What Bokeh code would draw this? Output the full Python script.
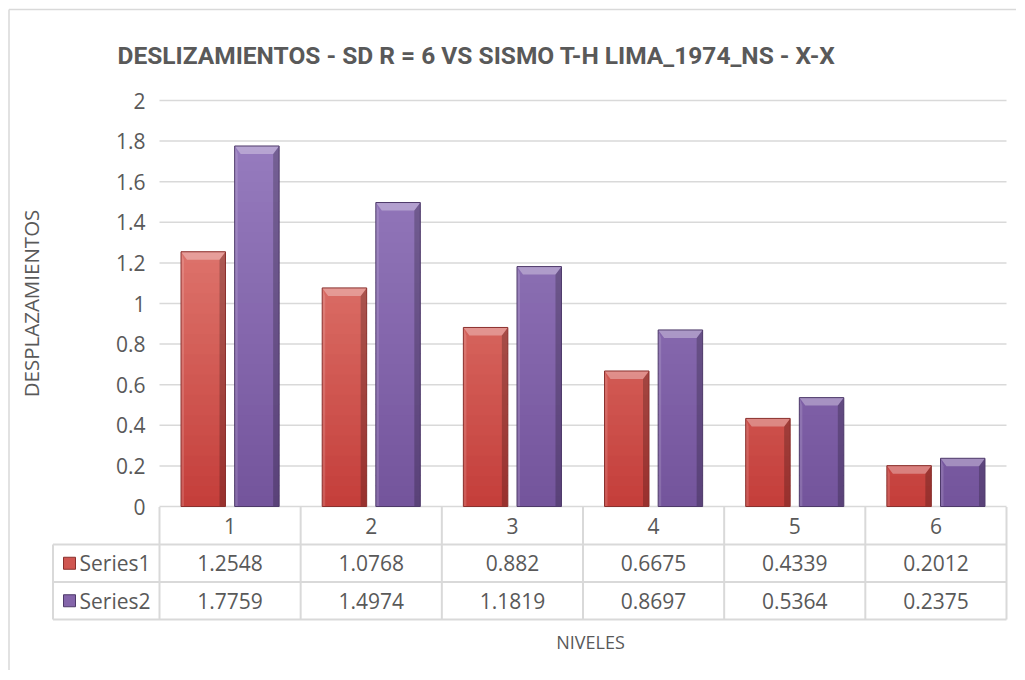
from bokeh.plotting import figure
from bokeh.models import Range1d, FixedTicker, NumeralTickFormatter, LinearAxis, Grid
from bokeh.core.properties import value
from bokeh.embed import file_html
from bokeh.resources import INLINE

# ---------------- data ----------------
levels = ["1", "2", "3", "4", "5", "6"]
series1 = [1.2548, 1.0768, 0.882, 0.6675, 0.4339, 0.2012]
series2 = [1.7759, 1.4974, 1.1819, 0.8697, 0.5364, 0.2375]
series_names = ["Series1", "Series2"]
y_ticks = [0, 0.2, 0.4, 0.6, 0.8, 1.0, 1.2, 1.4, 1.6, 1.8, 2.0]
title_text = "DESLIZAMIENTOS - SD R = 6 VS SISMO T-H LIMA_1974_NS - X-X"
y_title = "DESPLAZAMIENTOS"
x_title = "NIVELES"

# ---------------- style / layout (page pixels) ----------------
TXT = "#595959"
GRID = "#D9D9D9"
FONT = "Open Sans"
W, H = 1016, 670
PL, PR, PT, PB = 159.0, 1006.0, 100.0, 506.0     # plot area
CW = (PR - PL) / 6.0
PY = (PB - PT) / 2.0


def xd(px):
    return 0.5 + (px - PL) / CW


def yd(py):
    return (PB - py) / PY


grad = [((196, 62, 58), (236, 146, 136)),     # series 1 red: value 0 -> 2
        ((116, 84, 156), (154, 128, 194))]    # series 2 purple
lines = ["#8A302D", "#4E3A6A"]
keys = ["#CF5651", "#8465AA"]
offsets = [-0.19, 0.19]
BW = 0.315
STEP = 0.05


def mix(c0, c1, t):
    return "#%02X%02X%02X" % tuple(int(round(a + (b - a) * t)) for a, b in zip(c0, c1))


p = figure(width=W, height=H, x_range=Range1d(xd(0), xd(W)), y_range=Range1d(yd(H), yd(0)),
           output_backend="svg", toolbar_location=None,
           x_axis_location=None, y_axis_location=None, min_border=0)
p.min_border_left = p.min_border_right = p.min_border_top = p.min_border_bottom = 0
p.outline_line_color = None
p.background_fill_color = "white"
p.border_fill_color = "white"
p.renderers = [r for r in p.renderers if not isinstance(r, Grid)]
p.center = [r for r in p.center if not isinstance(r, Grid)]

# y axis drawn at the left edge of the plot area
ax = LinearAxis(fixed_location=0.5, bounds=(0, 2))
ax.ticker = FixedTicker(ticks=y_ticks, minor_ticks=[])
ax.formatter = NumeralTickFormatter(format="0.[0]")
ax.axis_line_color = None
ax.major_tick_line_color = None
ax.minor_tick_line_color = None
ax.major_tick_out = 0
ax.major_tick_in = 0
ax.minor_tick_out = 0
ax.minor_tick_in = 0
ax.major_label_standoff = 14
ax.major_label_text_font = FONT
ax.major_label_text_font_size = "21px"
ax.major_label_text_color = TXT
ax.axis_label = y_title
ax.axis_label_text_font = FONT
ax.axis_label_text_font_size = "20.5px"
ax.axis_label_text_font_style = "normal"
ax.axis_label_text_color = TXT
ax.axis_label_standoff = 68
p.add_layout(ax, "left")

# horizontal grid lines at the tick values
p.segment(x0=[0.5] * len(y_ticks), y0=y_ticks, x1=[6.5] * len(y_ticks), y1=y_ticks,
          line_color=GRID, line_width=1.5)

# outer chart border (left and top edges visible)
p.segment(x0=[xd(8.5), xd(8.5)], y0=[yd(9), yd(9)], x1=[xd(8.5), xd(W + 10)], y1=[yd(H + 10), yd(9)],
          line_color=GRID, line_width=1.5)

# title
p.text(x=[xd(117)], y=[yd(55)], text=[title_text], text_font=value("Roboto"),
       text_font_size="24.5px", text_font_style="bold", text_color=TXT,
       text_align="left", text_baseline="middle")

# ---------------- bars (gradient bands + bevel) ----------------
bx = 6.0 / CW
by = 8.0 / PY
lx = 3.0 / CW
for vals, off, g, lc in zip([series1, series2], offsets, grad, lines):
    xs = [i + 1 + off for i in range(len(vals))]
    L, R, B, T, C = [], [], [], [], []
    for x, v in zip(xs, vals):
        b = 0.0
        while b < v:
            t = min(b + STEP, v)
            L.append(x - BW / 2); R.append(x + BW / 2); B.append(b); T.append(min(t + 0.006, v))
            C.append(mix(g[0], g[1], (b + t) / 2 / 2.0))
            b = t
    p.quad(left=L, right=R, bottom=B, top=T, fill_color=C, line_color=None)
    p.patches(xs=[[x - BW / 2, x - BW / 2 + lx, x - BW / 2 + lx, x - BW / 2] for x in xs],
              ys=[[t, t - by, 0, 0] for t in vals],
              fill_color="white", fill_alpha=0.14, line_color=None)
    p.patches(xs=[[x + BW / 2 - bx, x + BW / 2, x + BW / 2, x + BW / 2 - bx] for x in xs],
              ys=[[t - by, t, 0, 0] for t in vals],
              fill_color="black", fill_alpha=0.22, line_color=None)
    p.patches(xs=[[x - BW / 2, x + BW / 2, x + BW / 2 - bx, x - BW / 2 + bx] for x in xs],
              ys=[[t, t, t - by, t - by] for t in vals],
              fill_color="white", fill_alpha=0.32, line_color=None)
    p.vbar(x=xs, top=vals, bottom=0, width=BW, fill_color=None, line_color=lc, line_width=1)

# ---------------- data table below the plot ----------------
n = len(levels)
row_edges = [506.5, 544.0, 581.5, 619.0]
leg_left = xd(52.5)
hy = [yd(row_edges[1]), yd(row_edges[2]), yd(row_edges[3])]
p.segment(x0=[leg_left] * 3, y0=hy, x1=[n + 0.5] * 3, y1=hy, line_color=GRID, line_width=2)
vx = [i + 0.5 for i in range(n + 1)]
p.segment(x0=vx, y0=[yd(row_edges[0])] * (n + 1), x1=vx, y1=[yd(row_edges[3])] * (n + 1),
          line_color=GRID, line_width=2)
p.segment(x0=[leg_left], y0=[yd(row_edges[1])], x1=[leg_left], y1=[yd(row_edges[3])],
          line_color=GRID, line_width=2)

p.text(x=[i + 1 for i in range(n)], y=[yd((row_edges[0] + row_edges[1]) / 2)] * n, text=levels,
       text_font=value(FONT), text_font_size="21px", text_color=TXT,
       text_align="center", text_baseline="middle")
for r, (vals, name, kc, lc) in enumerate(zip([series1, series2], series_names, keys, lines)):
    yc_px = (row_edges[r + 1] + row_edges[r + 2]) / 2
    p.text(x=[i + 1 for i in range(n)], y=[yd(yc_px)] * n, text=[str(v) for v in vals],
           text_font=value(FONT), text_font_size="21px", text_color=TXT,
           text_align="center", text_baseline="middle")
    p.rect(x=[xd(69)], y=[yd(yc_px)], width=12, height=12, width_units="screen",
           height_units="screen", fill_color=kc, line_color=lc, line_width=1)
    p.text(x=[xd(79)], y=[yd(yc_px)], text=[name],
           text_font=value(FONT), text_font_size="21px", text_color=TXT,
           text_align="left", text_baseline="middle")

p.text(x=[xd(590)], y=[yd(641)], text=[x_title],
       text_font=value(FONT), text_font_size="18px", text_color=TXT,
       text_align="center", text_baseline="middle")

with open("out.html", "w") as f:
    f.write(file_html(p, INLINE))
